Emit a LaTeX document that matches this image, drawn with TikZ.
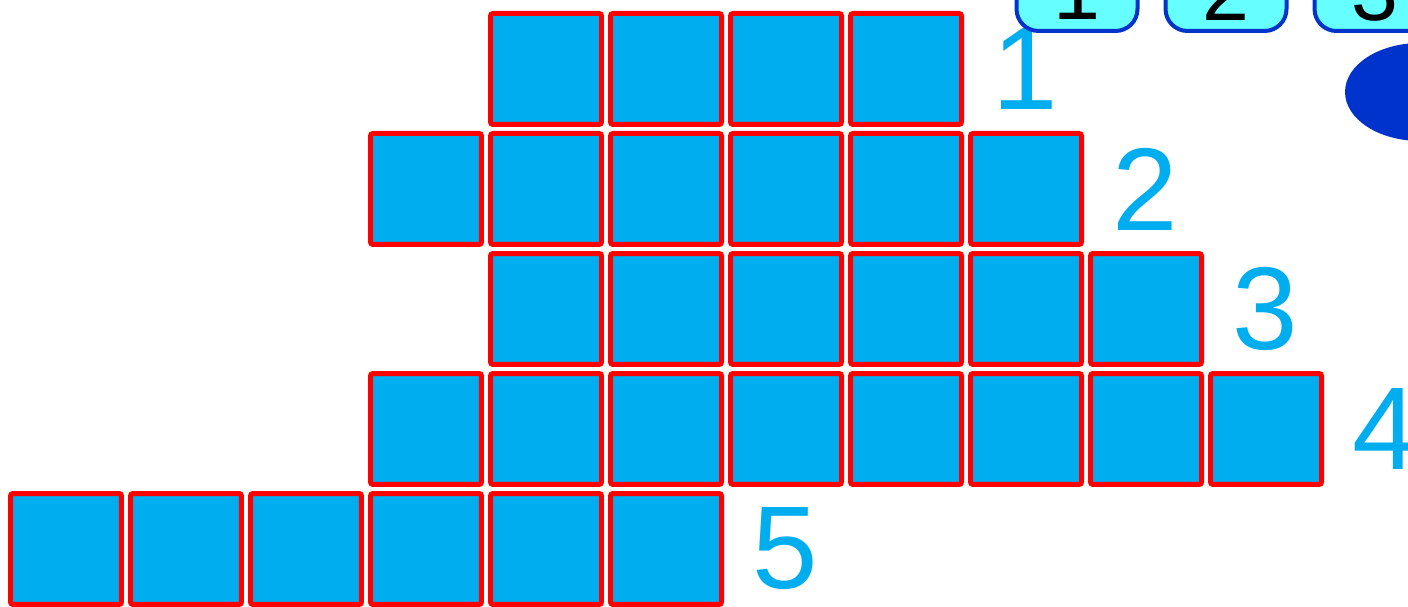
\documentclass[tikz,border=0pt]{standalone}
\usepackage{fontspec}
\setmainfont{Liberation Sans}
\usetikzlibrary{positioning}
\definecolor{gridCyan}{RGB}{0,174,239}
\definecolor{gridRed}{RGB}{255,0,0}
\definecolor{tabBlue}{RGB}{0,51,204}
\definecolor{tabFill}{RGB}{102,255,255}

\begin{document}
\begin{tikzpicture}[x=0.02cm, y=0.02cm,
    cell/.style={draw=gridRed, fill=gridCyan, line width=0.1cm, rounded corners=0.05cm,
      minimum size=2.22cm, inner sep=0pt},
    rowno/.style={text=gridCyan, font=\fontsize{67}{67}\selectfont, inner sep=0pt,
      right=0.56cm of #1},
    tab/.style={draw=tabBlue, fill=tabFill, line width=0.08cm, rounded corners=0.44cm,
      minimum width=2.42cm, minimum height=1.6cm, inner sep=0pt,
      font=\fontsize{48}{48}\selectfont}
  ]
    \useasboundingbox (0,0) rectangle (1408,607);
    \clip (0,0) rectangle (1408,607);

    % row / first column / last column
    \foreach \r/\first/\last in {1/4/7, 2/3/8, 3/4/9, 4/3/10, 5/0/5} {
      \foreach \c in {\first,...,\last}
        \node[cell] (c\r-\c) at ({66+120*\c},{538-120*(\r-1)}) {};
      \node[rowno=c\r-\last] (n\r) {\r};
    }

    \foreach \k/\xx in {1/1077, 2/1226, 3/1375}
      \node[tab] (tab\k) at (\xx,616) {\k};

    \fill[tabBlue] (1420,515) ellipse [x radius=1.5cm, y radius=0.98cm];
  \end{tikzpicture}
\end{document}
